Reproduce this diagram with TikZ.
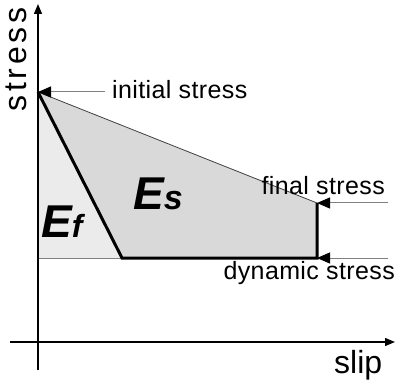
\documentclass[tikz,border=0pt]{standalone}
\usepackage{fontspec}
\setmainfont{Liberation Sans}
\usepackage{xcolor}
\usetikzlibrary{arrows.meta,positioning}
\definecolor{darkfill}{HTML}{D9D9D9}
\definecolor{lightfill}{HTML}{EBEBEB}
\definecolor{pointer}{HTML}{808080}

\begin{document}
\begin{tikzpicture}[
  x=1pt, y=-1pt,
  lbl/.style={inner sep=0pt, font=\fontsize{25}{25}\selectfont\addfontfeature{LetterSpace=1.5}},
  axlbl/.style={inner sep=0pt, font=\fontsize{32}{32}\selectfont},
  energy/.style={inner sep=0pt, font=\fontsize{46}{46}\selectfont\bfseries\itshape},
  axis/.style={line width=1.3pt, -{Triangle[length=10pt,width=8pt]}},
  ptr/.style={pointer, line width=1pt, -{Triangle[length=13pt,width=11pt,color=black,fill=black]}},
  curve/.style={line width=3pt, line join=miter}
]
\useasboundingbox (0,0) rectangle (396,382);
% corner points of the stress--slip curve
\coordinate (init) at (38,92);
\coordinate (fin) at (317,203);
\coordinate (dyn) at (317,258);
\coordinate (knee) at (122,258);
\coordinate (base) at (38,258);
% free ends of the pointers
\coordinate (initR) at (105,92);
\coordinate (finR) at (388,203);
\coordinate (dynR) at (388,258);
% areas
\fill[lightfill] (init) -- (knee) -- (base) -- cycle;
\fill[darkfill] (init) -- (fin) -- (dyn) -- (knee) -- cycle;
\draw[pointer, line width=0.8pt] (base) -- (knee);
\draw[black!75, line width=0.8pt] (init) -- (fin);
\draw[curve] (init) -- (knee) -- (dyn) -- (fin);
% axes
\coordinate (ybot) at (38,370);
\coordinate (ytop) at (38,4);
\coordinate (xleft) at (10,342);
\coordinate (xright) at (395,342);
\draw[axis] (ybot) -- (ytop);
\draw[axis] (xleft) -- (xright);
\node[axlbl, rotate=90, anchor=base west, font=\fontsize{32}{32}\selectfont\addfontfeature{LetterSpace=12}] (stress) at (27,112) {stress};
\node[axlbl, anchor=base west] (slip) at (334,373) {slip};
% pointers and labels
\draw[ptr] (initR) -- (init);
\draw[ptr] (finR) -- (fin);
\draw[ptr] (dynR) -- (dyn);
\node[lbl, anchor=base west] (initial) at (112,99) {initial stress};
\node[lbl, anchor=base east] (final) at (385,194) {final stress};
\node[lbl, anchor=base east] (dynamic) at (395,279) {dynamic stress};
% energies
\node[energy, anchor=base west] (Ef) at (41,237) {E\fontsize{32}{32}\selectfont f};
\node[energy, anchor=base west] (Es) at (133,209) {E\fontsize{34}{34}\selectfont s};
\end{tikzpicture}
\end{document}
